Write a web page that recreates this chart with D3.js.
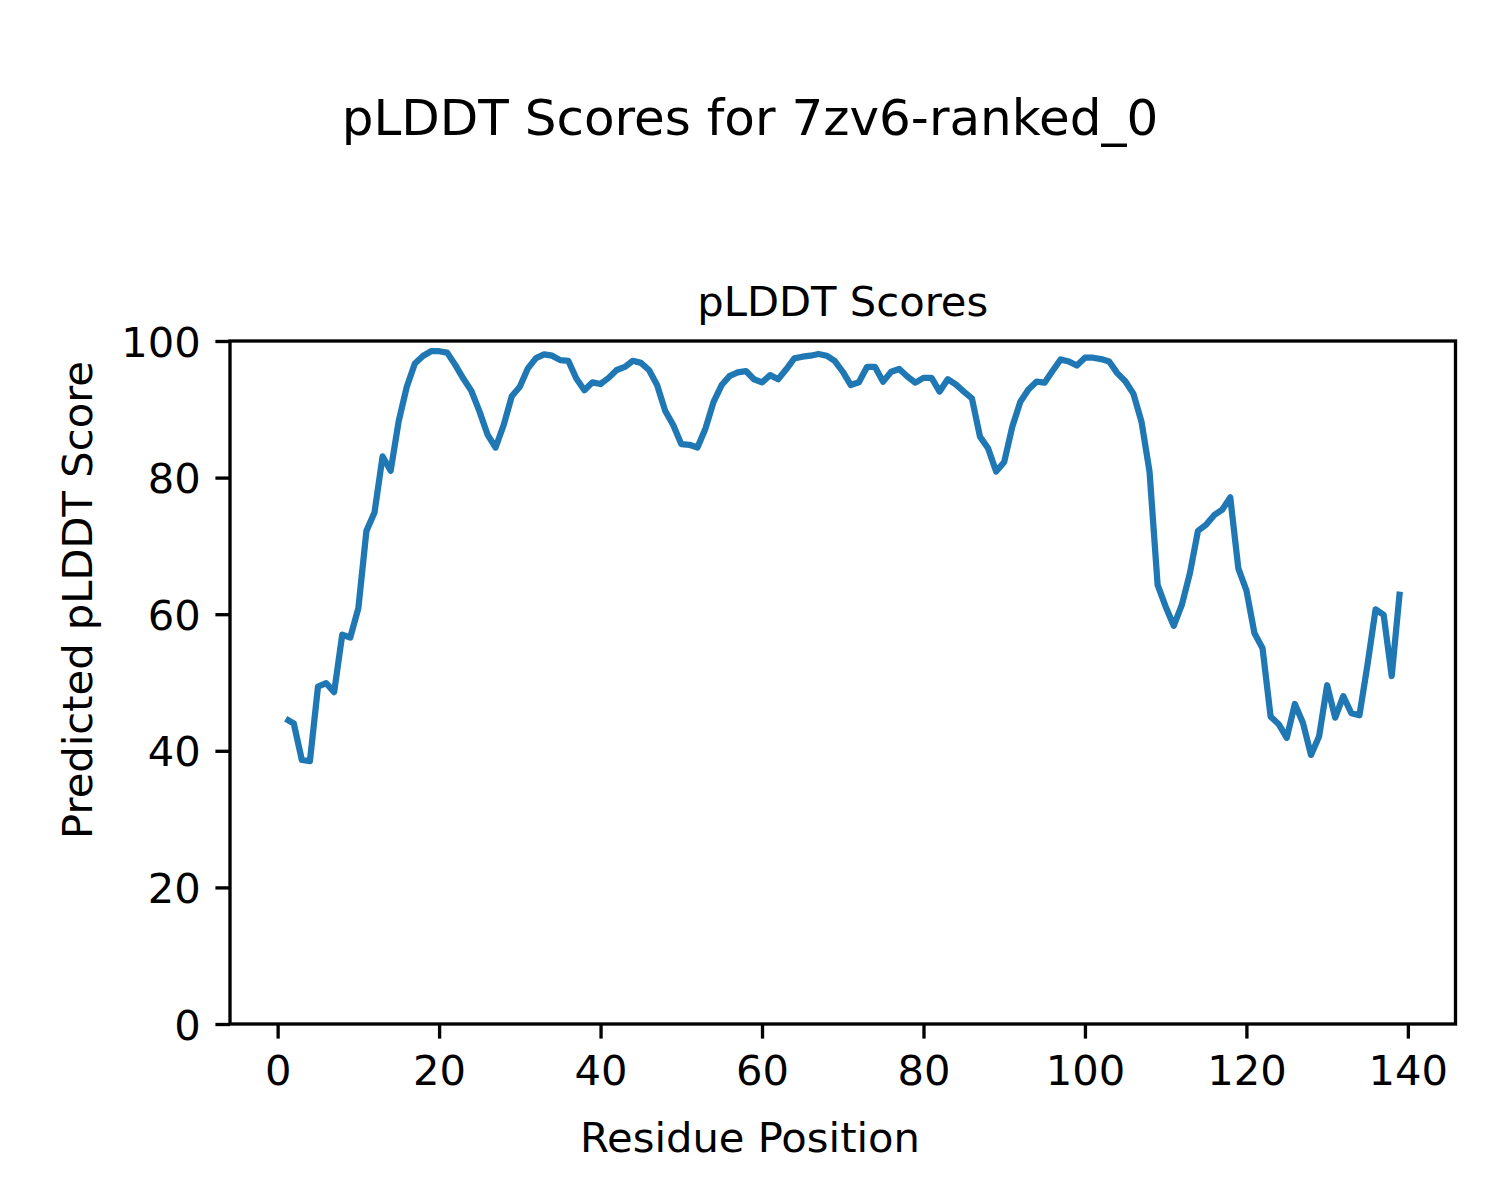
<!DOCTYPE html>
<html>
<head>
<meta charset="utf-8">
<script src="https://cdn.jsdelivr.net/npm/d3@7"></script>
<style>
  html, body { margin: 0; padding: 0; background: #fff; }
  svg text { font-family: "DejaVu Sans", sans-serif; fill: #000; }
</style>
</head>
<body>
<svg id="chart" width="1500" height="1200"></svg>
<script>
const suptitle = "pLDDT Scores for 7zv6-ranked_0";
const axTitle = "pLDDT Scores";
const xLabel = "Residue Position";
const yLabel = "Predicted pLDDT Score";
const xTicks = [0, 20, 40, 60, 80, 100, 120, 140];
const yTicks = [0, 20, 40, 60, 80, 100];
const residues = d3.range(1, 140);
const plddt = [
  44.7, 44.0, 38.65, 38.5, 49.4, 49.9, 48.6, 57.0, 56.6, 60.9,
  72.2, 74.9, 83.1, 81.0, 88.3, 93.3, 96.7, 97.8, 98.5, 98.5,
  98.3, 96.5, 94.5, 92.7, 89.7, 86.3, 84.4, 87.7, 91.9, 93.3,
  96.0, 97.5, 98.05, 97.85, 97.2, 97.1, 94.5, 92.8, 93.95, 93.7,
  94.6, 95.75, 96.2, 97.1, 96.8, 95.75, 93.55, 89.8, 87.7, 84.9,
  84.8, 84.4, 87.2, 91.1, 93.55, 94.9, 95.4, 95.6, 94.4, 93.95,
  95.0, 94.4, 95.85, 97.45, 97.7, 97.85, 98.1, 97.85, 97.1, 95.5,
  93.55, 93.95, 96.2, 96.2, 94.05, 95.5, 95.9, 94.8, 93.9, 94.6,
  94.6, 92.6, 94.4, 93.65, 92.6, 91.6, 86.0, 84.3, 80.9, 82.3,
  87.45, 91.1, 92.9, 94.05, 93.9, 95.65, 97.3, 97.0, 96.4, 97.55,
  97.55, 97.35, 97.0, 95.3, 94.1, 92.3, 88.2, 80.9, 64.3, 61.1,
  58.3, 61.35, 66.0, 72.2, 73.1, 74.5, 75.3, 77.1, 66.7, 63.5,
  57.2, 55.0, 45.0, 43.9, 41.9, 46.85, 44.1, 39.4, 42.1, 49.6,
  44.85, 48.0, 45.5, 45.2, 52.6, 60.7, 59.9, 50.95, 63.3
];

const svg = d3.select("#chart");
const plotLeft = 230, plotRight = 1455.5, plotTop = 341, plotBottom = 1024;
const fs = 41.67;

const xMin = 1, xMax = 139, pad = (xMax - xMin) * 0.05;
const x = d3.scaleLinear().domain([xMin - pad, xMax + pad]).range([plotLeft, plotRight]);
const y = d3.scaleLinear().domain([0, 100]).range([plotBottom, plotTop]);

// line
const line = d3.line().x((d, i) => x(residues[i])).y(d => y(d));
svg.append("path")
  .datum(plddt)
  .attr("d", line)
  .attr("fill", "none")
  .attr("stroke", "#1f77b4")
  .attr("stroke-width", 6.25)
  .attr("stroke-linejoin", "round")
  .attr("stroke-linecap", "butt");

// frame
svg.append("rect")
  .attr("x", plotLeft).attr("y", plotTop)
  .attr("width", plotRight - plotLeft).attr("height", plotBottom - plotTop)
  .attr("fill", "none").attr("stroke", "#000").attr("stroke-width", 3.33);

// x axis
const xAxis = d3.axisBottom(x).tickValues(xTicks).tickSize(14.6).tickPadding(14.6).tickFormat(d3.format("d"));
const gx = svg.append("g").attr("transform", `translate(0,${plotBottom})`).call(xAxis);
gx.select(".domain").remove();
gx.selectAll(".tick line").attr("stroke", "#000").attr("stroke-width", 3.33);
gx.selectAll(".tick text").attr("font-size", fs).attr("font-family", "DejaVu Sans").attr("dy", "0.76em");

// y axis
const yAxis = d3.axisLeft(y).tickValues(yTicks).tickSize(14.6).tickPadding(14.6).tickFormat(d3.format("d"));
const gy = svg.append("g").attr("transform", `translate(${plotLeft},0)`).call(yAxis);
gy.select(".domain").remove();
gy.selectAll(".tick line").attr("stroke", "#000").attr("stroke-width", 3.33);
gy.selectAll(".tick text").attr("font-size", fs).attr("font-family", "DejaVu Sans").attr("dy", "0.36em");

// titles
svg.append("text").attr("x", 750).attr("y", 135).attr("text-anchor", "middle")
  .attr("font-size", 50).text(suptitle);
svg.append("text").attr("x", (plotLeft + plotRight) / 2).attr("y", 316).attr("text-anchor", "middle")
  .attr("font-size", fs).text(axTitle);
svg.append("text").attr("x", 750).attr("y", 1152).attr("text-anchor", "middle")
  .attr("font-size", fs).text(xLabel);
svg.append("text").attr("transform", "translate(92,600) rotate(-90)").attr("text-anchor", "middle")
  .attr("font-size", fs).text(yLabel);
</script>
</body>
</html>
